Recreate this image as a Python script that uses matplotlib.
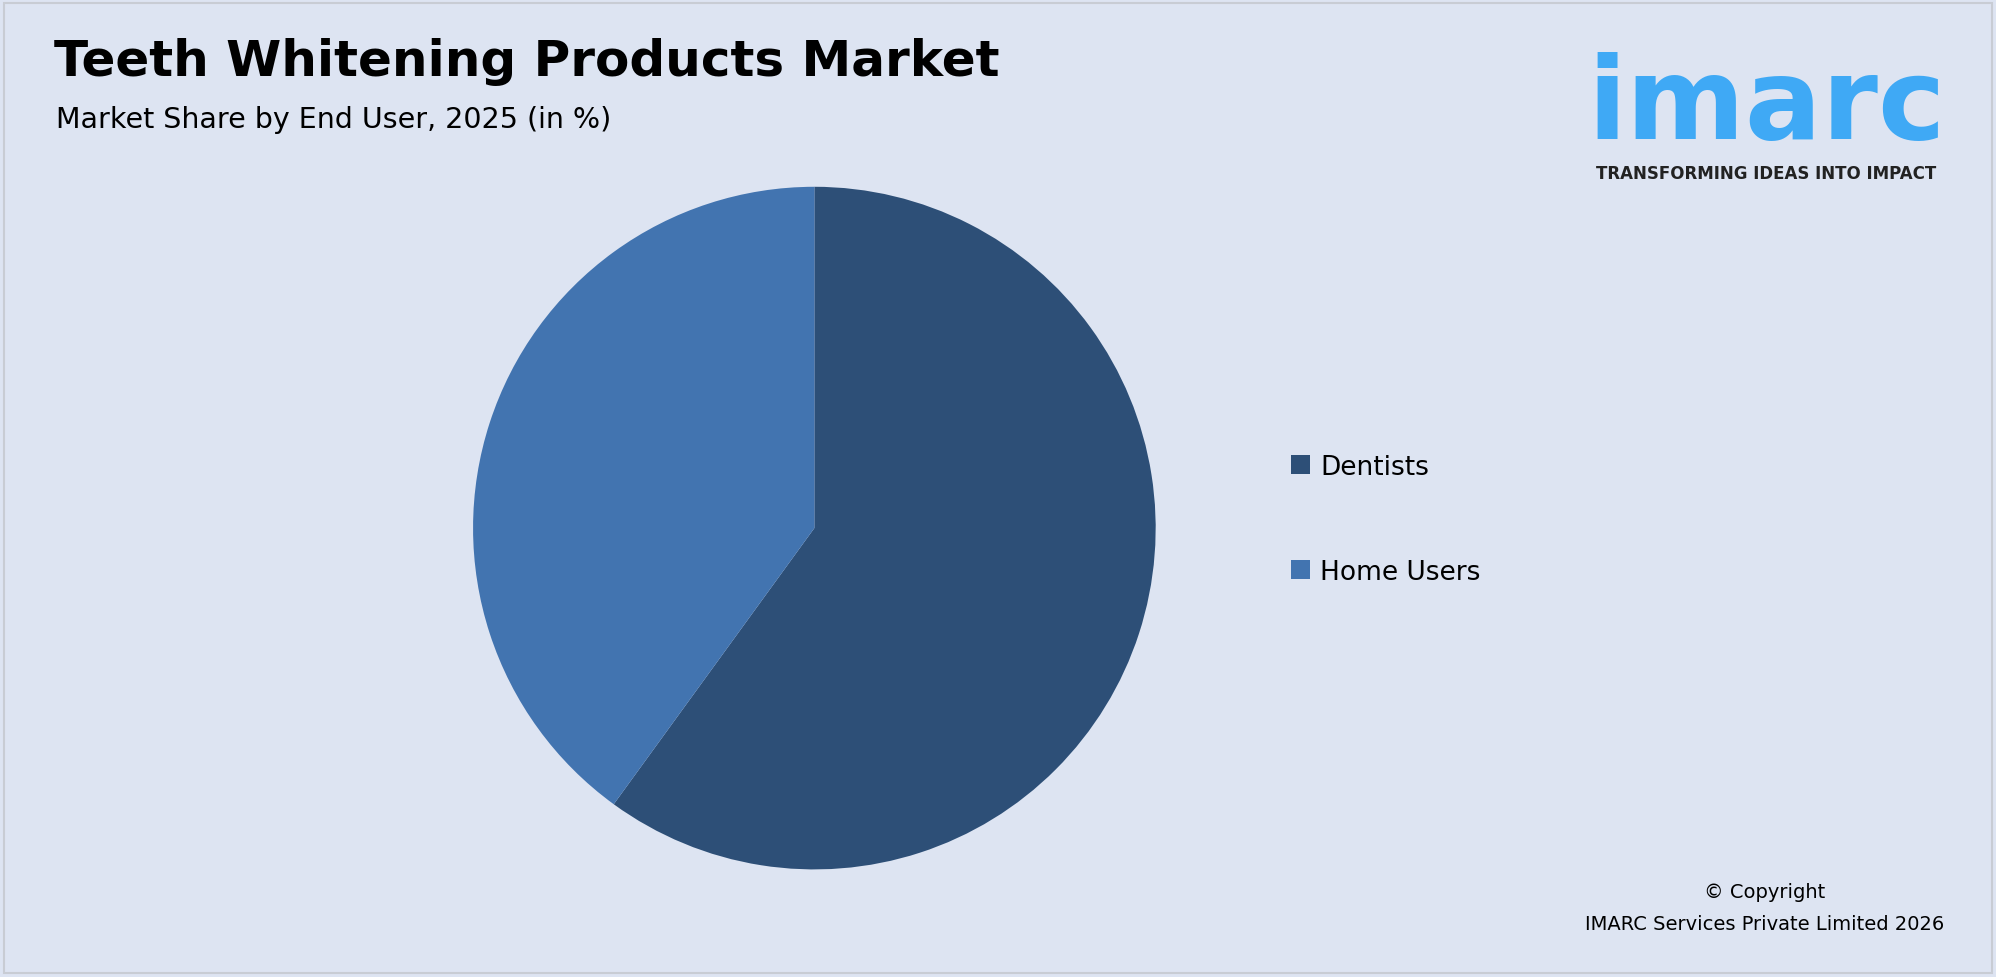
import matplotlib
matplotlib.use('Agg')
import matplotlib.pyplot as plt
from matplotlib.patches import Patch, Rectangle

labels = ['Dentists', 'Home Users']
shares = [60, 40]
colors = ['#2d4f77', '#4274b0']

bg = '#dde4f2'
fig = plt.figure(figsize=(19.96, 9.78), dpi=100, facecolor=bg)
fig.patches.append(Rectangle((0.002, 0.004), 0.996, 0.992, transform=fig.transFigure,
                             fill=False, edgecolor='#c8ccd4', linewidth=1.5))

ax = fig.add_axes([0.237, 0.11, 0.342, 0.698])
ax.set_facecolor(bg)
ax.pie(shares, colors=colors, startangle=90, counterclock=False,
       wedgeprops=dict(linewidth=0))
ax.set_xlim(-1, 1)
ax.set_ylim(-1, 1)
ax.set_aspect('equal')

handles = [Patch(facecolor=c, label=l) for c, l in zip(colors, labels)]
fig.legend(handles=handles, loc='center left', bbox_to_anchor=(0.635, 0.468),
           frameon=False, fontsize=19, handlelength=0.7, handleheight=0.7,
           handletextpad=0.4, labelspacing=3.0)

fig.text(0.027, 0.937, 'Teeth Whitening Products Market', fontsize=36,
         fontweight='bold', va='center', color='black')
fig.text(0.028, 0.877, 'Market Share by End User, 2025 (in %)', fontsize=20.5,
         va='center', color='black')

fig.text(0.885, 0.89, 'imarc', fontsize=82, fontweight='bold', color='#3fa9f5',
         ha='center', va='center')
fig.text(0.885, 0.822, 'TRANSFORMING IDEAS INTO IMPACT', fontsize=12,
         fontweight='bold', color='#222222', ha='center', va='center')

fig.text(0.884, 0.087, '© Copyright', fontsize=14, ha='center', va='center')
fig.text(0.884, 0.055, 'IMARC Services Private Limited 2026', fontsize=14,
         ha='center', va='center')

fig.savefig('out.png', dpi=100, facecolor=bg)
